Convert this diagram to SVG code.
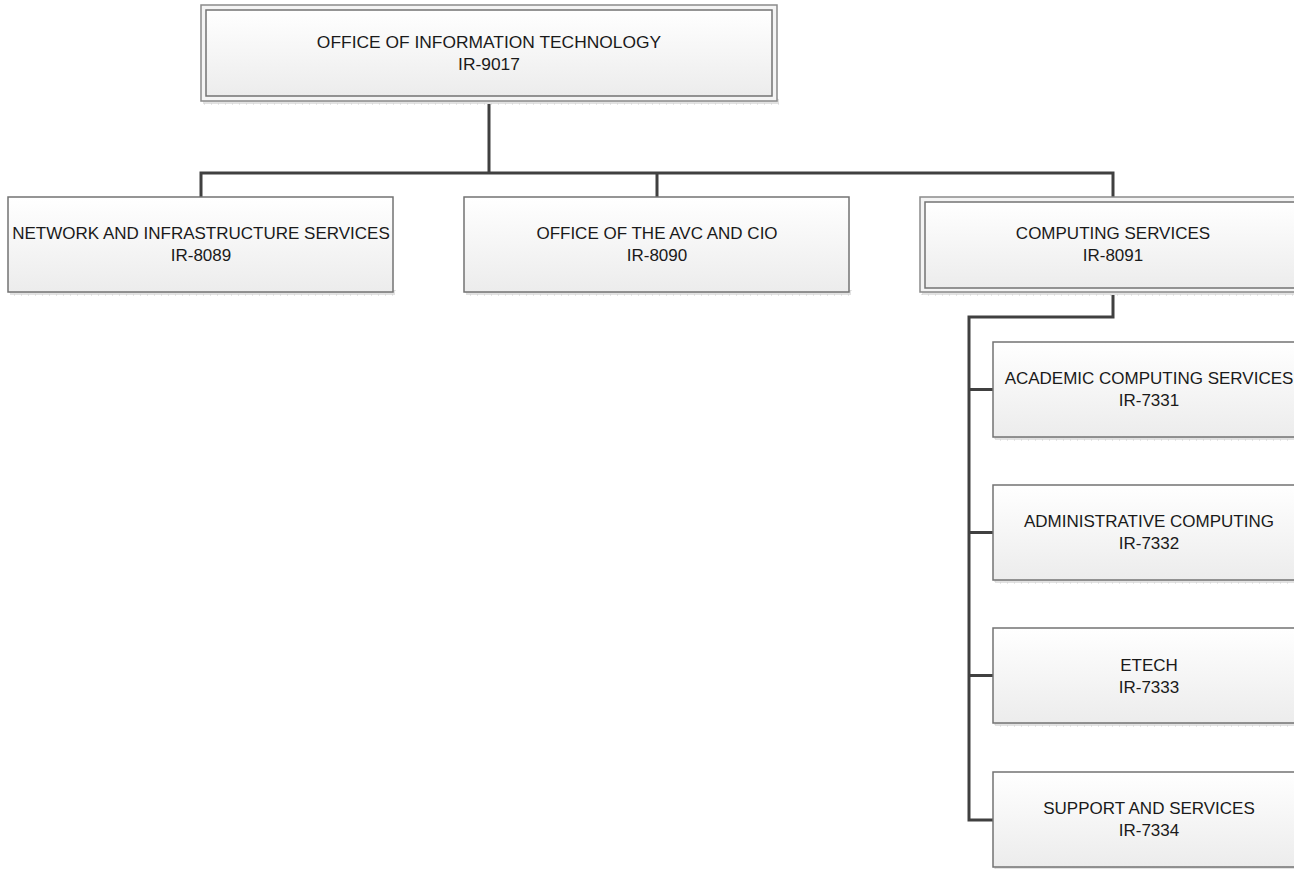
<svg xmlns="http://www.w3.org/2000/svg" width="1294" height="869" viewBox="0 0 1294 869">
<defs>
<linearGradient id="g" x1="0" y1="0" x2="0" y2="1">
<stop offset="0" stop-color="#ffffff"/>
<stop offset="1" stop-color="#ececec"/>
</linearGradient>
<style>
.box{fill:url(#g);stroke:#737373;stroke-width:1.5}
.outer{fill:#f4f4f4;stroke:#8a8a8a;stroke-width:1.5}
.sh{fill:#e2e2e2;stroke:#d0d0d0;stroke-width:1;stroke-dasharray:1 6}
.t{font-family:"Liberation Sans",Arial,sans-serif;font-size:17px;fill:#1a1a1a;text-anchor:middle}
.c{fill:none;stroke:#404040;stroke-width:3;stroke-linejoin:miter}
</style>
</defs>
<rect width="1294" height="869" fill="#ffffff"/>
<g id="connectors">
<path class="c" d="M489 101 V173 M201 197 V173 H1113 V197 M657 173 V197"/>
<path class="c" d="M1113 292 V317 H969 V820 H993 M969 389.5 H993 M969 532.5 H993 M969 675.5 H993"/>
</g>
<g id="n9017">
<rect class="sh" x="203" y="99" width="576" height="5"/>
<rect class="outer" x="201" y="5" width="576" height="96"/>
<rect class="box" x="206" y="10" width="566" height="86"/>
<text class="t" x="489" y="48" style="font-size:17.4px">OFFICE OF INFORMATION TECHNOLOGY</text>
<text class="t" x="489" y="70" style="font-size:17.4px">IR-9017</text>
</g>
<g id="n8089">
<rect class="sh" x="10" y="290" width="385" height="5"/>
<rect class="box" x="8" y="197" width="385" height="95"/>
<text class="t" x="201" y="239">NETWORK AND INFRASTRUCTURE SERVICES</text>
<text class="t" x="201" y="261">IR-8089</text>
</g>
<g id="n8090">
<rect class="sh" x="466" y="290" width="385" height="5"/>
<rect class="box" x="464" y="197" width="385" height="95"/>
<text class="t" x="657" y="239">OFFICE OF THE AVC AND CIO</text>
<text class="t" x="657" y="261">IR-8090</text>
</g>
<g id="n8091">
<rect class="sh" x="922" y="290" width="386" height="5"/>
<rect class="outer" x="920" y="197" width="386" height="95"/>
<rect class="box" x="925" y="202" width="376" height="86"/>
<text class="t" x="1113" y="239">COMPUTING SERVICES</text>
<text class="t" x="1113" y="261">IR-8091</text>
</g>
<g id="n7331">
<rect class="sh" x="995" y="435" width="312" height="5"/>
<rect class="box" x="993" y="342" width="312" height="95"/>
<text class="t" x="1149" y="384">ACADEMIC COMPUTING SERVICES</text>
<text class="t" x="1149" y="406">IR-7331</text>
</g>
<g id="n7332">
<rect class="sh" x="995" y="578" width="312" height="5"/>
<rect class="box" x="993" y="485" width="312" height="95"/>
<text class="t" x="1149" y="527">ADMINISTRATIVE COMPUTING</text>
<text class="t" x="1149" y="549">IR-7332</text>
</g>
<g id="n7333">
<rect class="sh" x="995" y="721" width="312" height="5"/>
<rect class="box" x="993" y="628" width="312" height="95"/>
<text class="t" x="1149" y="671">ETECH</text>
<text class="t" x="1149" y="693">IR-7333</text>
</g>
<g id="n7334">
<rect class="sh" x="995" y="865" width="312" height="5"/>
<rect class="box" x="993" y="772" width="312" height="95"/>
<text class="t" x="1149" y="814">SUPPORT AND SERVICES</text>
<text class="t" x="1149" y="836">IR-7334</text>
</g>
</svg>
